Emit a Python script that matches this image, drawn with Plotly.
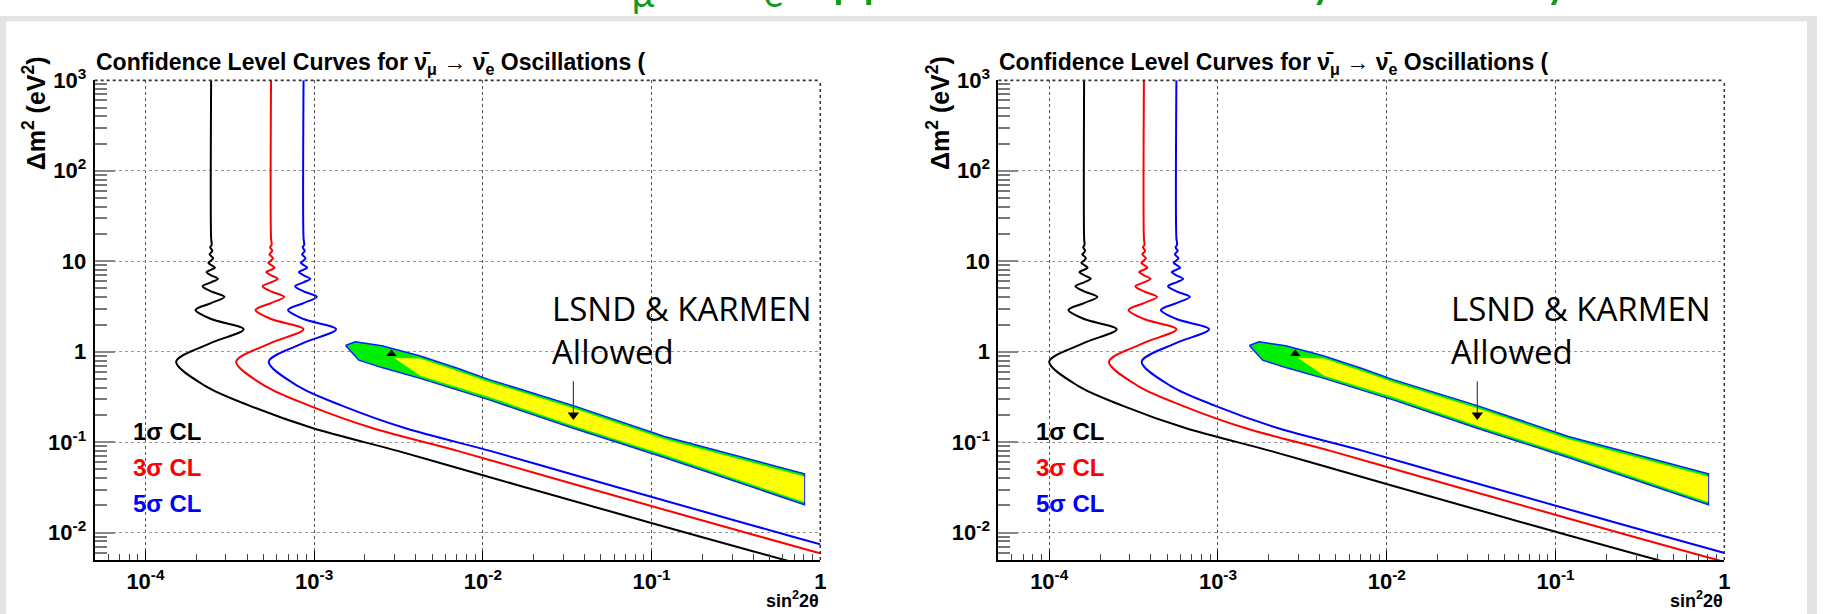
import plotly.graph_objects as go

W, H = 1823, 614

# ---------------- data ----------------
dm2 = [1000, 18, 15.4, 14.8, 14.25, 13.7, 13.1, 12.5, 11.95, 11.4, 10.8, 10.2, 9.65, 9.1,
       8.5, 8.05, 7.6, 7.0, 6.4, 5.85, 5.3, 4.65, 4.04, 3.45, 2.9, 2.3, 1.77, 1.25, 0.774,
       0.417, 0.254, 0.1426, 0.0798, 0.0437, 0.0251, 0.01265, 0.0062, 0.0039]

left_1sigma = [2.45e-4, 2.45e-4, 2.47e-4, 2.45e-4, 2.42e-4, 2.45e-4, 2.49e-4, 2.45e-4, 2.40e-4, 2.45e-4,
               2.52e-4, 2.45e-4, 2.36e-4, 2.45e-4, 2.58e-4, 2.45e-4, 2.30e-4, 2.45e-4, 2.69e-4, 2.45e-4,
               2.18e-4, 2.45e-4, 2.94e-4, 2.45e-4, 1.98e-4, 2.45e-4, 3.82e-4, 2.45e-4, 1.52e-4, 2.27e-4,
               4.13e-4, 9.86e-4, 3.16e-3, 9.77e-3, 0.0278, 0.102, 0.403, 1.0]
left_3sigma = [5.55e-4, 5.55e-4, 5.60e-4, 5.55e-4, 5.48e-4, 5.55e-4, 5.64e-4, 5.55e-4, 5.43e-4, 5.55e-4,
               5.70e-4, 5.55e-4, 5.35e-4, 5.55e-4, 5.83e-4, 5.55e-4, 5.20e-4, 5.55e-4, 6.08e-4, 5.55e-4,
               4.94e-4, 5.55e-4, 6.65e-4, 5.55e-4, 4.49e-4, 5.55e-4, 8.65e-4, 5.55e-4, 3.45e-4, 5.14e-4,
               9.35e-4, 2.23e-3, 7.16e-3, 0.0221, 0.0630, 0.232, 0.912, 2.26]
left_5sigma = [8.65e-4, 8.65e-4, 8.73e-4, 8.65e-4, 8.55e-4, 8.65e-4, 8.79e-4, 8.65e-4, 8.47e-4, 8.65e-4,
               8.89e-4, 8.65e-4, 8.34e-4, 8.65e-4, 9.10e-4, 8.65e-4, 8.11e-4, 8.65e-4, 9.48e-4, 8.65e-4,
               7.71e-4, 8.65e-4, 1.038e-3, 8.65e-4, 7.00e-4, 8.65e-4, 1.349e-3, 8.65e-4, 5.38e-4, 8.02e-4,
               1.459e-3, 3.48e-3, 0.01117, 0.0345, 0.0982, 0.361, 1.42, 3.53]

right_1sigma = [1.61e-4, 1.61e-4, 1.62e-4, 1.61e-4, 1.59e-4, 1.61e-4, 1.63e-4, 1.61e-4, 1.57e-4, 1.61e-4,
                1.65e-4, 1.61e-4, 1.55e-4, 1.61e-4, 1.69e-4, 1.61e-4, 1.51e-4, 1.61e-4, 1.76e-4, 1.61e-4,
                1.43e-4, 1.61e-4, 1.93e-4, 1.61e-4, 1.30e-4, 1.61e-4, 2.51e-4, 1.61e-4, 1.00e-4, 1.49e-4,
                2.71e-4, 6.47e-4, 2.07e-3, 6.41e-3, 0.0182, 0.0669, 0.264, 0.656]
right_3sigma = [3.64e-4, 3.64e-4, 3.67e-4, 3.64e-4, 3.59e-4, 3.64e-4, 3.70e-4, 3.64e-4, 3.56e-4, 3.64e-4,
                3.74e-4, 3.64e-4, 3.51e-4, 3.64e-4, 3.82e-4, 3.64e-4, 3.41e-4, 3.64e-4, 3.99e-4, 3.64e-4,
                3.24e-4, 3.64e-4, 4.36e-4, 3.64e-4, 2.95e-4, 3.64e-4, 5.67e-4, 3.64e-4, 2.26e-4, 3.37e-4,
                6.13e-4, 1.46e-3, 4.70e-3, 0.0145, 0.0413, 0.152, 0.598, 1.48]
right_5sigma = [5.67e-4, 5.67e-4, 5.73e-4, 5.67e-4, 5.61e-4, 5.67e-4, 5.77e-4, 5.67e-4, 5.56e-4, 5.67e-4,
                5.83e-4, 5.67e-4, 5.47e-4, 5.67e-4, 5.97e-4, 5.67e-4, 5.32e-4, 5.67e-4, 6.22e-4, 5.67e-4,
                5.06e-4, 5.67e-4, 6.81e-4, 5.67e-4, 4.59e-4, 5.67e-4, 8.85e-4, 5.67e-4, 3.53e-4, 5.26e-4,
                9.57e-4, 2.28e-3, 7.33e-3, 0.0226, 0.0644, 0.237, 0.932, 2.32]

# LSND & KARMEN allowed band (outer green/blue edge and yellow core)
band_x = [1.535e-3, 1.75e-3, 2.52e-3, 4.25e-3, 7.14e-3, 0.01091, 0.03436, 0.1191, 0.805,
          0.805, 0.1191, 0.03436, 0.01091, 7.14e-3, 4.25e-3, 2.52e-3, 1.84e-3, 1.535e-3]
band_y = [1.172, 1.288, 1.166, 0.899, 0.652, 0.492, 0.254, 0.1159, 0.0448,
          0.0204, 0.0678, 0.1426, 0.294, 0.378, 0.508, 0.668, 0.807, 1.172]
core_x = [3.0e-3, 4.25e-3, 7.14e-3, 0.01091, 0.03436, 0.1191, 0.80,
          0.80, 0.1191, 0.03436, 0.01091, 7.14e-3, 4.25e-3, 3.0e-3]
core_y = [0.85, 0.834, 0.605, 0.457, 0.2357, 0.1074, 0.0416,
          0.0220, 0.0730, 0.1535, 0.318, 0.407, 0.547, 0.85]
bestfit_x = [2.87e-3]
bestfit_y = [0.952]
arrow_x = [0.0344, 0.0344]
arrow_y = [0.472, 0.200]

x_tickvals = [1e-4, 1e-3, 1e-2, 1e-1, 1]
x_ticktext = ["10<sup>-4</sup>", "10<sup>-3</sup>", "10<sup>-2</sup>", "10<sup>-1</sup>", "1"]
y_tickvals = [1e-2, 1e-1, 1, 10, 100, 1000]
y_ticktext = ["10<sup>-2</sup>", "10<sup>-1</sup>", "1", "10", "10<sup>2</sup>", "10<sup>3</sup>"]
legend_labels = ["1σ CL", "3σ CL", "5σ CL"]
curve_colors = ["#000000", "#ff0000", "#0000ff"]

title_text = "Confidence Level Curves for ν\u0304<sub>μ</sub> → ν\u0304<sub>e</sub> Oscillations ("
header_text = "ν\u0304<sub>μ</sub> → ν\u0304<sub>e</sub> Appearance Sensitivity Summary"

x_minor = [k * 10.0 ** e for e in range(-5, 0) for k in range(2, 10) if k * 10.0 ** e >= 5e-5]
y_minor = [k * 10.0 ** e for e in range(-3, 3) for k in range(2, 10) if k * 10.0 ** e >= 5e-3]

# ---------------- layout geometry (pixels) ----------------
def px(X):
    return X / W


def py(Y):
    return 1 - Y / H


panels = [
    dict(x0=95, x1=823, curves=[left_1sigma, left_3sigma, left_5sigma], dx=0, tdx=0),
    dict(x0=1001.7, x1=1730, curves=[right_1sigma, right_3sigma, right_5sigma], dx=906.7, tdx=902),
]
Y_TOP, Y_BOT = 66, 558.5

fig = go.Figure()
annotations = []
shapes = []

TICKFONT = dict(family="Liberation Sans, Arial", size=22, color="black", weight="bold")

for i, p in enumerate(panels):
    xa = "x" if i == 0 else "x2"
    ya = "y" if i == 0 else "y2"
    # band
    fig.add_trace(go.Scatter(x=band_x, y=band_y, mode="lines", fill="toself",
                             fillcolor="#00ee00", line=dict(color="#0022ff", width=1.5),
                             xaxis=xa, yaxis=ya, hoverinfo="skip", showlegend=False))
    fig.add_trace(go.Scatter(x=core_x, y=core_y, mode="lines", fill="toself",
                             fillcolor="#ffff00", line=dict(color="#ffff00", width=0.5),
                             xaxis=xa, yaxis=ya, hoverinfo="skip", showlegend=False))
    fig.add_trace(go.Scatter(x=bestfit_x, y=bestfit_y, mode="markers",
                             marker=dict(symbol="triangle-up", size=9, color="black"),
                             xaxis=xa, yaxis=ya, hoverinfo="skip", showlegend=False))
    fig.add_trace(go.Scatter(x=arrow_x, y=arrow_y, mode="lines",
                             line=dict(color="#444444", width=1.2),
                             xaxis=xa, yaxis=ya, hoverinfo="skip", showlegend=False))
    fig.add_trace(go.Scatter(x=[arrow_x[1]], y=[arrow_y[1]], mode="markers",
                             marker=dict(symbol="triangle-down", size=10, color="black"),
                             xaxis=xa, yaxis=ya, hoverinfo="skip", showlegend=False))
    # CL curves
    for xs, col in zip(p["curves"], curve_colors):
        fig.add_trace(go.Scatter(x=xs, y=dm2, mode="lines",
                                 line=dict(color=col, width=2, shape="spline", smoothing=0.9),
                                 xaxis=xa, yaxis=ya, hoverinfo="skip", showlegend=False))

    dom_x = [px(p["x0"]), px(p["x1"])]
    dom_y = [py(Y_BOT), py(Y_TOP)]
    xaxis = dict(type="log", range=[-4.301, 0], domain=dom_x, anchor=ya,
                 tickmode="array", tickvals=x_tickvals, ticktext=x_ticktext,
                 ticks="inside", ticklen=9, tickwidth=1, tickcolor="black",
                 tickfont=TICKFONT, ticklabelstandoff=1,
                 showline=True, linewidth=2, linecolor="black",
                 showgrid=True, gridcolor="#555555", griddash="dot", gridwidth=1,
                 zeroline=False,
                 minor=dict(tickmode="array", tickvals=x_minor, ticks="inside", ticklen=6,
                            tickwidth=1, tickcolor="#444444", showgrid=False))
    yaxis = dict(type="log", range=[-2.301, 3], domain=dom_y, anchor=xa,
                 tickmode="array", tickvals=y_tickvals, ticktext=y_ticktext,
                 ticks="inside", ticklen=20, tickwidth=2, tickcolor="#888888",
                 tickfont=TICKFONT, ticklabelstandoff=2,
                 showline=True, linewidth=2, linecolor="black",
                 showgrid=True, gridcolor="#999999", griddash="dot", gridwidth=1,
                 zeroline=False,
                 minor=dict(tickmode="array", tickvals=y_minor, ticks="inside", ticklen=12,
                            tickwidth=1.5, tickcolor="#777777", showgrid=False))
    if i == 0:
        fig.update_layout(xaxis=xaxis, yaxis=yaxis)
    else:
        fig.update_layout(xaxis2=xaxis, yaxis2=yaxis)

    # dotted top and right frame edges
    shapes.append(dict(type="line", xref=xa + " domain", yref=ya + " domain", x0=0, x1=1, y0=1, y1=1,
                       line=dict(color="#333333", width=1.8, dash="dot")))
    shapes.append(dict(type="line", xref=xa + " domain", yref=ya + " domain", x0=1, x1=1, y0=0, y1=1,
                       line=dict(color="#333333", width=1.5, dash="dot")))

    dx = p["dx"]
    annotations.append(dict(text=title_text, x=px(94 + dx), y=py(66), xref="paper", yref="paper",
                            xanchor="left", yanchor="bottom", showarrow=False,
                            font=dict(family="Liberation Sans, Arial", size=23, color="black",
                                      weight="bold")))
    annotations.append(dict(text="Δm<sup>2</sup> (eV<sup>2</sup>)", x=px(35 + dx), y=py(100),
                            xref="paper", yref="paper", textangle=-90,
                            xanchor="center", yanchor="middle", showarrow=False,
                            font=dict(family="Liberation Sans, Arial", size=25, color="black",
                                      weight="bold")))
    annotations.append(dict(text="sin<sup>2</sup>2θ", x=px(824 + dx), y=py(613), xref="paper",
                            yref="paper", xanchor="right", yanchor="bottom", showarrow=False,
                            font=dict(family="Liberation Sans, Arial", size=18, color="black",
                                      weight="bold")))
    for lab, col, base in zip(legend_labels, curve_colors, [436.7, 473.3, 510]):
        annotations.append(dict(text=lab, x=px(131 + dx), y=py(base + 6), xref="paper",
                                yref="paper", xanchor="left", yanchor="bottom", showarrow=False,
                                font=dict(family="Liberation Sans, Arial", size=24, color=col,
                                          weight="bold")))
    annotations.append(dict(text="LSND & KARMEN<br>Allowed", x=px(551.5 + p["tdx"]), y=py(322.3),
                            xref="paper", yref="paper", xanchor="left", yanchor="middle",
                            align="left", showarrow=False,
                            font=dict(family="Open Sans", size=33, color="black")))

# slide header (mostly cut off at the top edge)
annotations.append(dict(text=header_text, x=px(604), y=py(1), xref="paper", yref="paper",
                        xanchor="left", yanchor="bottom", showarrow=False,
                        font=dict(family="Lato, Open Sans", size=54, color="#119a1a")))

# grey slide border strips
for x0, x1, y0, y1 in [(0, W, 0, 5.7), (0, 6, 0, H), (1813, W, 0, H)]:
    shapes.append(dict(type="rect", xref="paper", yref="paper", x0=px(x0), x1=px(x1),
                       y0=py(y1), y1=py(y0), fillcolor="#e4e4e4", line=dict(width=0),
                       layer="below"))

fig.update_layout(width=W, height=H, margin=dict(l=0, r=0, t=0, b=0),
                  paper_bgcolor="white", plot_bgcolor="white",
                  annotations=annotations, shapes=shapes, showlegend=False)

fig.write_html("out.html")
